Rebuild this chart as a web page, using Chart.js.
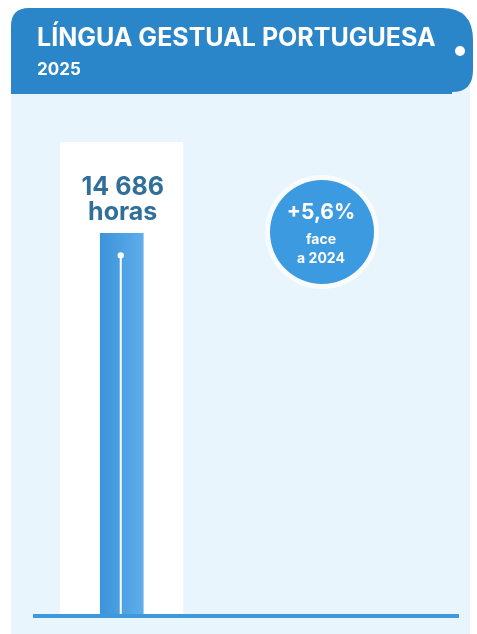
<!DOCTYPE html>
<html>
<head>
<meta charset="utf-8">
<script src="https://cdn.jsdelivr.net/npm/chart.js@4"></script>
<style>
html,body{margin:0;padding:0;background:#ffffff;}
#wrap{position:relative;width:477px;height:634px;}
canvas{display:block;}
</style>
</head>
<body>
<div id="wrap"><canvas id="c" width="477" height="634"></canvas></div>
<script>
const title = "LÍNGUA GESTUAL PORTUGUESA";
const subtitle = "2025";
const categories = [2025];
const hours = [14686];
const unitLabel = ["horas"];
const changeLabel = ["+5,6%"];
const changeNote = ["face", "a 2024"];

function fmt(n){ return String(n).replace(/\B(?=(\d{3})+(?!\d))/g, " "); }

const bg = {
  id: 'bg',
  beforeDraw(chart){
    const ctx = chart.ctx;
    ctx.save();
    // panel
    ctx.fillStyle = '#e8f5fc';
    ctx.fillRect(11, 60, 459, 574);
    // header band
    ctx.fillStyle = '#2b86c9';
    ctx.beginPath();
    ctx.moveTo(11, 94);
    ctx.lineTo(11, 26);
    ctx.quadraticCurveTo(11, 8, 29, 8);
    ctx.lineTo(442, 8);
    ctx.quadraticCurveTo(473, 8, 473, 40);
    ctx.lineTo(473, 70);
    ctx.quadraticCurveTo(473, 92, 452, 92);
    ctx.lineTo(452, 94);
    ctx.closePath();
    ctx.fill();
    // hole
    ctx.fillStyle = '#ffffff';
    ctx.beginPath(); ctx.arc(460, 51, 5, 0, Math.PI*2); ctx.fill();
    // texts
    ctx.fillStyle = '#ffffff';
    ctx.textBaseline = 'alphabetic';
    ctx.textAlign = 'left';
    ctx.font = 'bold 25px Inter, Roboto, sans-serif';
    ctx.fillText(title, 37, 46);
    ctx.font = 'bold 17px Inter, Roboto, sans-serif';
    ctx.fillText(subtitle, 37, 75);
    // white column behind bar
    const meta = chart.getDatasetMeta(0);
    const bar = meta.data[0];
    const yb = chart.scales.y.getPixelForValue(0);
    ctx.fillStyle = '#ffffff';
    ctx.fillRect(bar.x - 61.5, 142, 123, yb - 142);
    // circle
    const cx = 322, cy = 232;
    ctx.fillStyle = 'rgba(255,255,255,0.7)';
    ctx.beginPath(); ctx.arc(cx, cy, 57, 0, Math.PI*2); ctx.fill();
    ctx.fillStyle = '#3c9ae0';
    ctx.beginPath(); ctx.arc(cx, cy, 52, 0, Math.PI*2); ctx.fill();
    ctx.fillStyle = '#ffffff';
    ctx.textAlign = 'center';
    ctx.textBaseline = 'middle';
    ctx.font = 'bold 21px Inter, Roboto, sans-serif';
    ctx.fillText(changeLabel[0], cx - 1, 213);
    ctx.font = 'bold 14px Inter, Roboto, sans-serif';
    ctx.fillText(changeNote[0], cx - 1, 240);
    ctx.fillText(changeNote[1], cx - 1, 259);
    ctx.restore();
  },
  afterDatasetsDraw(chart){
    const ctx = chart.ctx;
    const meta = chart.getDatasetMeta(0);
    const yb = chart.scales.y.getPixelForValue(0);
    ctx.save();
    meta.data.forEach((bar, i) => {
      // inner white line with dot
      ctx.strokeStyle = '#ffffff';
      ctx.lineWidth = 2;
      const lx = bar.x - 1;
      ctx.beginPath(); ctx.moveTo(lx, bar.y + 22); ctx.lineTo(lx, yb); ctx.stroke();
      ctx.fillStyle = '#ffffff';
      ctx.beginPath(); ctx.arc(lx, bar.y + 22, 3.2, 0, Math.PI*2); ctx.fill();
      // value label
      ctx.fillStyle = '#2f6f9a';
      ctx.textAlign = 'center';
      ctx.textBaseline = 'middle';
      ctx.font = 'bold 25px Inter, Roboto, sans-serif';
      ctx.fillText(fmt(hours[i]), bar.x + 1, 187);
      ctx.fillText(unitLabel[i], bar.x + 1, 212);
    });
    // baseline
    ctx.strokeStyle = '#3f97dc';
    ctx.lineWidth = 4;
    ctx.beginPath();
    ctx.moveTo(chart.chartArea.left, yb);
    ctx.lineTo(chart.chartArea.right, yb);
    ctx.stroke();
    ctx.restore();
  }
};

const ctx = document.getElementById('c').getContext('2d');
const grad = ctx.createLinearGradient(100, 0, 144, 0);
grad.addColorStop(0, '#3b93da');
grad.addColorStop(1, '#5eaeea');

new Chart(ctx, {
  type: 'bar',
  data: {
    datasets: [{
      data: categories.map((c, i) => ({x: c, y: hours[i]})),
      backgroundColor: grad,
      borderWidth: 0,
      barThickness: 43
    }]
  },
  options: {
    responsive: false,
    devicePixelRatio: 1,
    animation: false,
    layout: { padding: { left: 33, right: 18, top: 147, bottom: 18 } },
    plugins: { legend: { display: false }, tooltip: { enabled: false } },
    scales: {
      x: { type: 'linear', min: 2024, max: 2028.8, offset: false, display: false },
      y: { min: 0, max: 18000, display: false }
    }
  },
  plugins: [bg]
});
</script>
</body>
</html>
